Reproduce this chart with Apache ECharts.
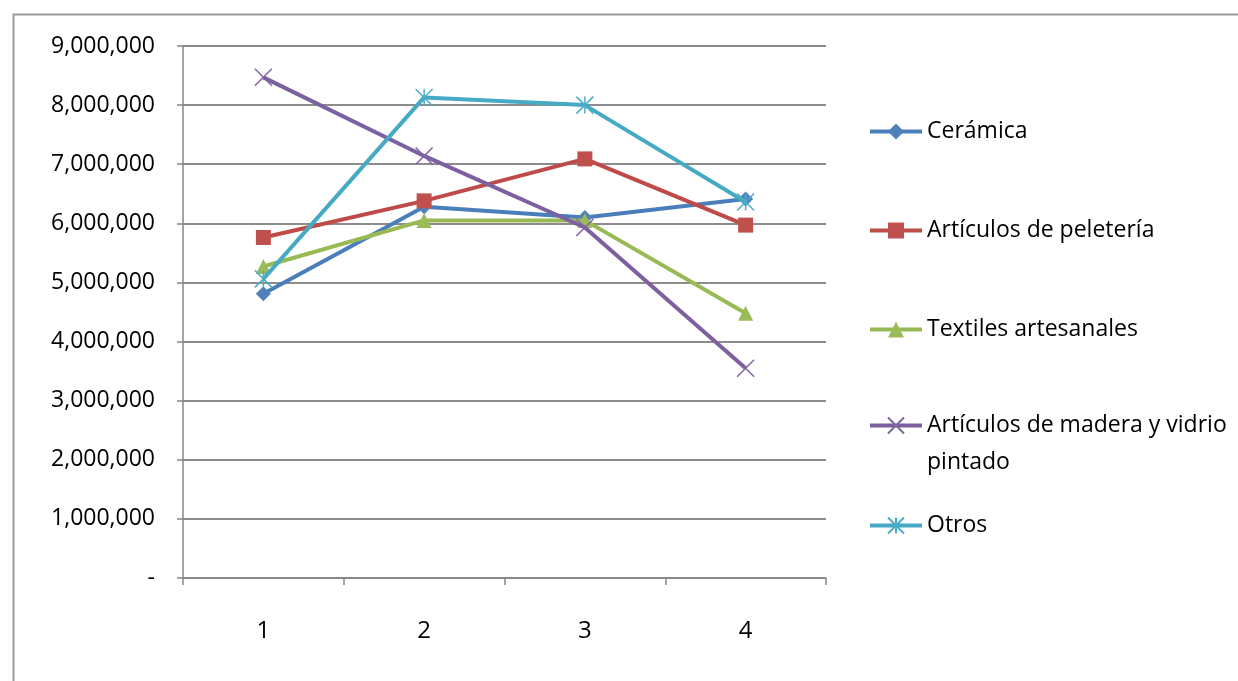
<!DOCTYPE html>
<html>
<head>
<meta charset="utf-8">
<script src="https://cdn.jsdelivr.net/npm/echarts@6/dist/echarts.min.js"></script>
<style>
html,body{margin:0;padding:0;background:#fff;}
#c{width:1238px;height:681px;}
</style>
</head>
<body>
<div id="c"></div>
<script>
var categories = ['1', '2', '3', '4'];
var ceramica = [4810000, 6280000, 6100000, 6410000];
var peleteria = [5760000, 6380000, 7090000, 5970000];
var textiles = [5270000, 6050000, 6050000, 4480000];
var madera = [8470000, 7140000, 5930000, 3550000];
var otros = [5060000, 8130000, 8000000, 6360000];
var seriesNames = ['Cerámica', 'Artículos de peletería', 'Textiles artesanales', 'Artículos de madera y vidrio pintado', 'Otros'];
var yTicks = { min: 0, max: 9000000, interval: 1000000 };

var FONT = '"Open Sans", "Liberation Sans", sans-serif';
var colors = ['#4A7EBB', '#BE4B48', '#98B954', '#7D60A0', '#46AAC5'];
var markColors = ['#4F81BD', '#C0504D', '#9BBB59', '#8064A2', '#4BACC6'];
var xPath = 'path://M0,0L10,10M10,0L0,10';
var starPath = 'path://M5,0L5,10M0,0L10,10M10,0L0,10';

function mk(name, data, i, symbol, size, strokeOnly) {
  return {
    name: name, type: 'line', data: data, symbol: symbol, symbolSize: size,
    showSymbol: true, z: 2 + i,
    lineStyle: { color: colors[i], width: 4 },
    itemStyle: strokeOnly
      ? { color: 'none', borderColor: markColors[i], borderWidth: 1.5 }
      : { color: markColors[i], borderColor: markColors[i], borderWidth: 0 },
    emphasis: { disabled: true },
    animation: false
  };
}

var chart = echarts.init(document.getElementById('c'), null, { renderer: 'canvas' });

var legendTops = [120, 219, 318, 370, 514];
var legends = seriesNames.map(function (n, i) {
  var isLong = i === 3;
  var ts = { fontFamily: FONT, fontSize: 23, color: '#000' };
  if (isLong) { ts.lineHeight = 37; }
  return {
    data: [n], orient: 'vertical', left: 868, top: legendTops[i], padding: 0,
    itemWidth: 52, itemHeight: 20, itemGap: 0, selectedMode: false,
    lineStyle: { width: 4 },
    formatter: isLong ? ' \nArtículos de madera y vidrio\npintado' : '{name}',
    textStyle: ts
  };
});

chart.setOption({
  backgroundColor: '#fff',
  animation: false,
  graphic: [{
    type: 'rect', left: 11, top: 12,
    shape: { width: 1400, height: 800 },
    style: { fill: 'none', stroke: '#9a9a9a', lineWidth: 2 },
    silent: true, z: -1
  }],
  grid: { left: 183, right: 412, top: 46, bottom: 103, containLabel: false },
  legend: legends,
  xAxis: {
    type: 'category', data: categories, boundaryGap: true,
    axisLine: { lineStyle: { color: '#868686', width: 1.5 } },
    axisTick: { show: true, length: 7, lineStyle: { color: '#868686', width: 1.5 } },
    axisLabel: { fontFamily: FONT, fontSize: 24, color: '#000', margin: 41 }
  },
  yAxis: {
    type: 'value', min: yTicks.min, max: yTicks.max, interval: yTicks.interval,
    axisLine: { show: true, lineStyle: { color: '#868686', width: 1.5 } },
    axisTick: { show: true, length: 6, lineStyle: { color: '#868686', width: 1.5 } },
    splitLine: { lineStyle: { color: '#8c8c8c', width: 2 } },
    axisLabel: {
      fontFamily: FONT, fontSize: 23, color: '#000', margin: 28,
      formatter: function (v) { return v === 0 ? '-' : v.toLocaleString('en-US'); }
    }
  },
  series: [
    mk(seriesNames[0], ceramica, 0, 'diamond', 15, false),
    mk(seriesNames[1], peleteria, 1, 'rect', 15, false),
    mk(seriesNames[2], textiles, 2, 'triangle', 15, false),
    mk(seriesNames[3], madera, 3, xPath, 17, true),
    mk(seriesNames[4], otros, 4, starPath, 17, true)
  ]
});
</script>
</body>
</html>
